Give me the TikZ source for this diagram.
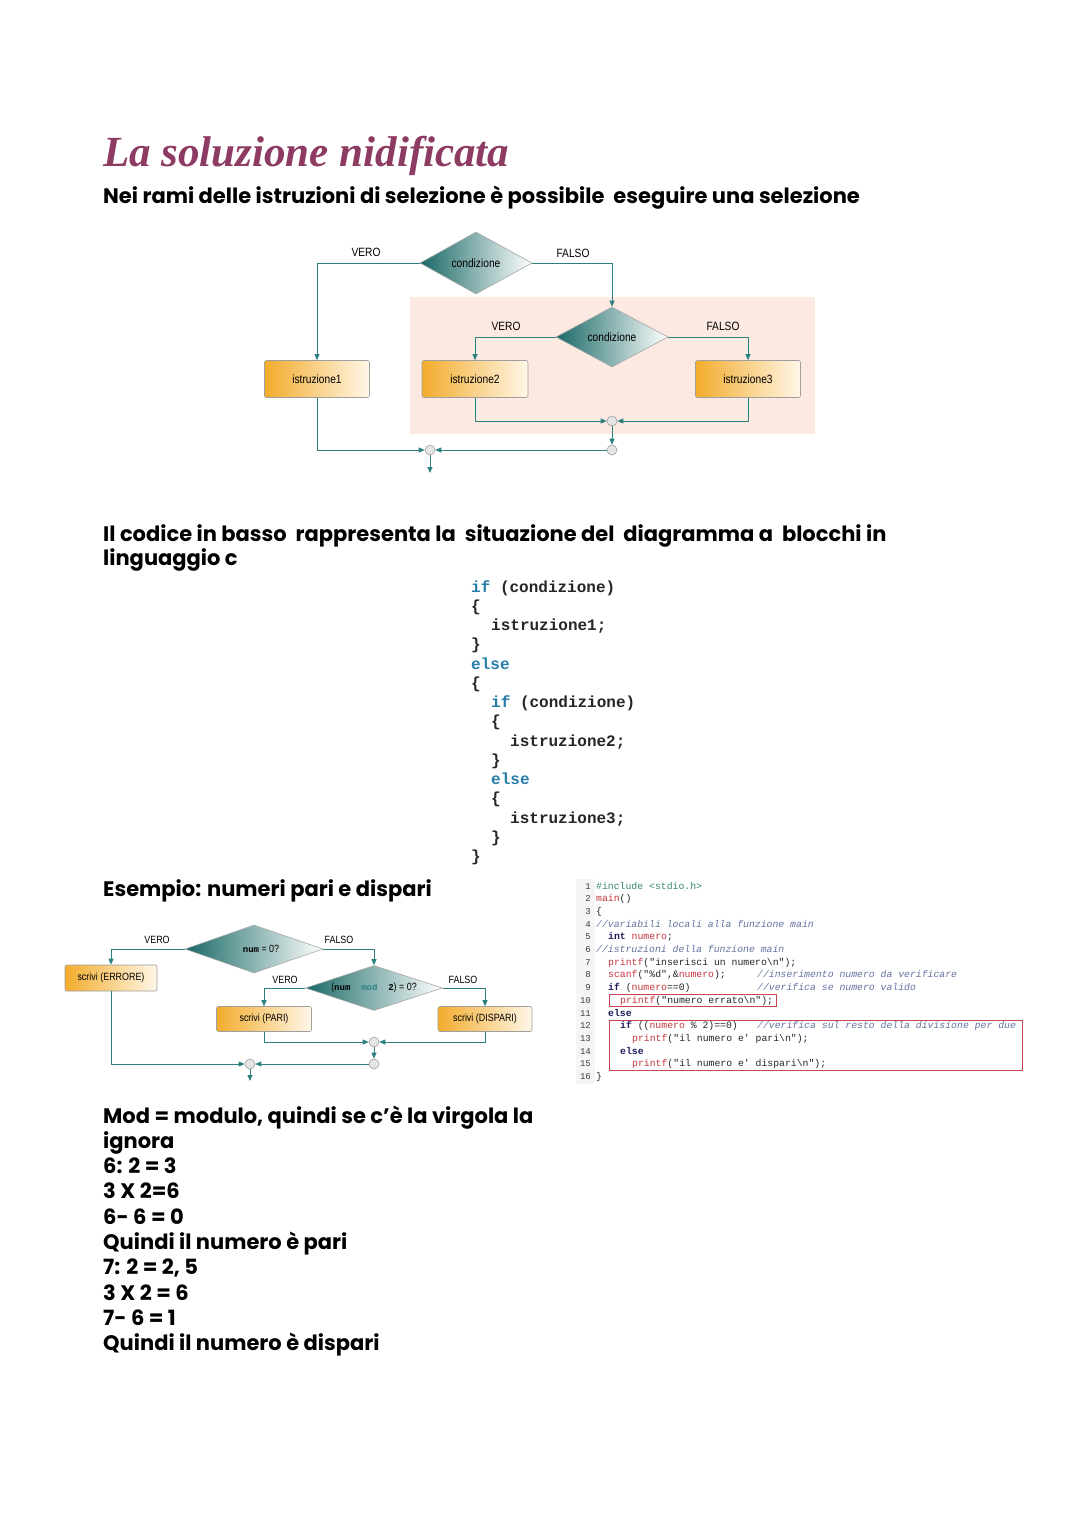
\documentclass[tikz,border=0pt]{standalone}
\usepackage{fontspec}
\setmainfont{Liberation Sans}
\setmonofont{Liberation Mono}
\newfontfamily\handfont{Poppins}
\newfontfamily\titlefont{Liberation Serif}
\newfontfamily\diagfont[FakeStretch=0.85]{Liberation Sans}
\usetikzlibrary{shapes.geometric,arrows.meta,positioning}

\definecolor{titlepurple}{RGB}{142,59,100}
\definecolor{flowteal}{RGB}{45,130,128}
\definecolor{diateal}{RGB}{25,105,102}
\definecolor{boxorange}{RGB}{243,172,45}
\definecolor{boxlight}{RGB}{255,247,232}
\definecolor{pinkbg}{RGB}{252,233,226}
\definecolor{kwblue}{RGB}{38,125,170}
\definecolor{lsnavy}{RGB}{30,30,90}
\definecolor{lsred}{RGB}{195,55,60}
\definecolor{lscomment}{RGB}{100,115,160}
\definecolor{lsgreen}{RGB}{55,135,115}
\definecolor{boxred}{RGB}{200,70,80}

\newcommand\kwb[1]{\textcolor{kwblue}{#1}}
\newcommand\lkw[1]{\textcolor{lsnavy}{\bfseries #1}}
\newcommand\lid[1]{\textcolor{lsred}{#1}}
\newcommand\lcm[1]{\textcolor{lscomment}{\itshape #1}}

\tikzset{
  hand/.style={anchor=base west, inner sep=0pt, font=\handfont\bfseries\fontsize{21}{21}\selectfont},
  cond/.style={diamond, draw=gray!70, line width=0.6pt, inner sep=0pt, shape aspect=3,
    left color=diateal, middle color=diateal!25, right color=white},
  instr/.style={rectangle, rounded corners=2pt, draw=gray!75, line width=0.6pt,
    left color=boxorange, middle color=boxorange!45!boxlight, right color=boxlight},
  junct/.style={circle, draw=gray!75, fill=gray!20, line width=0.6pt, minimum size=10pt, inner sep=0pt},
  flow/.style={draw=flowteal, line width=0.8pt, -{Triangle[length=6pt,width=5pt]}},
  bigfont/.style={font=\diagfont\fontsize{12}{12}\selectfont},
  smallfont/.style={font=\diagfont\fontsize{10.5}{10.5}\selectfont},
  ccode/.style={anchor=base west, inner sep=0pt, text=black!85, font=\ttfamily\bfseries\fontsize{16}{16}\selectfont},
  lcode/.style={anchor=base west, inner sep=0pt, text=black!85, font=\ttfamily\fontsize{9.8}{9.8}\selectfont},
  lnum/.style={anchor=base east, inner sep=0pt, text=black!75, font=\ttfamily\fontsize{9}{9}\selectfont}
}

\begin{document}
\begin{tikzpicture}[x=1pt,y=-1pt]
  \useasboundingbox (0,0) rectangle (1080,1527);
  \fill[white] (0,0) rectangle (1080,1527);

  %%%%% TITOLO %%%%%
  \node[anchor=base west, inner sep=0pt, text=titlepurple,
    font=\titlefont\bfseries\itshape\fontsize{43}{43}\selectfont] (titolo) at (103,166) {La soluzione nidificata};
  \node[hand] (intro) at (103,203) {Nei rami delle istruzioni di selezione è possibile\ \ eseguire una selezione};

  %%%%% DIAGRAMMA ANNIDATO %%%%%
  \fill[pinkbg] (410,297) rectangle (815,434);

  \node[cond, bigfont, minimum width=112pt, minimum height=62pt] (c1) at (476,263) {condizione};
  \node[cond, bigfont, minimum width=112pt, minimum height=60pt] (c2) at (612,337) {condizione};
  \node[instr, bigfont, minimum width=105pt, minimum height=37pt] (i1) at (317,379) {istruzione1};
  \node[instr, bigfont, minimum width=106pt, minimum height=37pt] (i2) at (475,379) {istruzione2};
  \node[instr, bigfont, minimum width=105pt, minimum height=37pt] (i3) at (748,379) {istruzione3};
  \node[junct] (j1) at (612,421) {};
  \node[junct] (j2) at (612,450) {};
  \node[junct] (j3) at (430,450) {};
  \coordinate (fine1) at (430,473);

  \node[bigfont] (v1) at (366,252) {VERO};
  \node[bigfont] (f1) at (573,253) {FALSO};
  \node[bigfont] (v2) at (506,326) {VERO};
  \node[bigfont] (f2) at (723,326) {FALSO};

  \draw[flow] (c1.west) -| (i1.north);
  \draw[flow] (c1.east) -| (c2.north);
  \draw[flow] (c2.west) -| (i2.north);
  \draw[flow] (c2.east) -| (i3.north);
  \draw[flow] (i2.south) |- (j1.west);
  \draw[flow] (i3.south) |- (j1.east);
  \draw[flow] (j1.south) -- (j2.north);
  \draw[flow] (i1.south) |- (j3.west);
  \draw[flow] (j2.west) -- (j3.east);
  \draw[flow] (j3.south) -- (fine1);

  %%%%% TESTO %%%%%
  \node[hand] (codice1) at (103,541) {Il codice in basso\ \ rappresenta la\ \ situazione del\ \ diagramma a\ \ blocchi in};
  \node[hand] (codice2) at (103,565) {linguaggio c};

  % codice C
  \foreach \lx/\txt [count=\i] in {471/{\kwb{if} (condizione)}, 471/\{, 491/istruzione1;, 471/\}, 471/\kwb{else},
      471/\{, 491/{\kwb{if} (condizione)}, 491/\{, 510/istruzione2;, 491/\}, 491/\kwb{else}, 491/\{,
      510/istruzione3;, 491/\}, 471/\}}
    \node[ccode] (cc\i) at (\lx,{592+19.27*(\i-1)}) {\txt};

  \node[hand] (esempio) at (103,896) {Esempio: numeri pari e dispari};

  %%%%% DIAGRAMMA PARI/DISPARI %%%%%
  \node[cond, smallfont, minimum width=138pt, minimum height=48pt] (c3) at (254,949)
    {\hspace{14pt}{\ttfamily\bfseries\fontsize{9}{9}\selectfont num} = 0?};
  \node[cond, smallfont, minimum width=137pt, minimum height=45pt] (c4) at (374,988)
    {({\ttfamily\bfseries\fontsize{9}{9}\selectfont num\ \ \textcolor{flowteal}{mod}\ \ 2}) = 0?};
  \node[instr, smallfont, minimum width=92pt, minimum height=26pt] (e1) at (111,978) {scrivi (ERRORE)};
  \node[instr, smallfont, minimum width=95pt, minimum height=25pt] (p1) at (264,1019) {scrivi (PARI)};
  \node[instr, smallfont, minimum width=94pt, minimum height=25pt] (d1) at (485,1019) {scrivi (DISPARI)};
  \node[junct] (j4) at (374,1042) {};
  \node[junct] (j5) at (374,1064) {};
  \node[junct] (j6) at (250,1064) {};
  \coordinate (fine2) at (250,1081);

  \node[smallfont] (v3) at (157,940) {VERO};
  \node[smallfont] (f3) at (339,940) {FALSO};
  \node[smallfont] (v4) at (285,980) {VERO};
  \node[smallfont] (f4) at (463,980) {FALSO};

  \draw[flow] (c3.west) -| (e1.north);
  \draw[flow] (c3.east) -| (c4.north);
  \draw[flow] (c4.west) -| (p1.north);
  \draw[flow] (c4.east) -| (d1.north);
  \draw[flow] (p1.south) |- (j4.west);
  \draw[flow] (d1.south) |- (j4.east);
  \draw[flow] (j4.south) -- (j5.north);
  \draw[flow] (e1.south) |- (j6.west);
  \draw[flow] (j5.west) -- (j6.east);
  \draw[flow] (j6.south) -- (fine2);

  %%%%% LISTATO %%%%%
  \fill[gray!8] (576,879) rectangle (595,1084);
  \foreach \n in {1,...,16}
    \node[lnum] (ln\n) at (591,{889+12.7*(\n-1)}) {\n};
  \node[lcode] (l1) at (596,889) {\textcolor{lsgreen}{\#include <stdio.h>}};
  \node[lcode] (l2) at (596,901.7) {\lid{main}()};
  \node[lcode] (l3) at (596,914.4) {\{};
  \node[lcode] (l4) at (596,927.1) {\lcm{//variabili locali alla funzione main}};
  \node[lcode] (l5) at (608,939.8) {\lkw{int} \lid{numero};};
  \node[lcode] (l6) at (596,952.5) {\lcm{//istruzioni della funzione main}};
  \node[lcode] (l7) at (608,965.2) {\lid{printf}("inserisci un numero\textbackslash n");};
  \node[lcode] (l8) at (608,977.9) {\lid{scanf}("\%d",\&\lid{numero});};
  \node[lcode] (k8) at (757,977.9) {\lcm{//inserimento numero da verificare}};
  \node[lcode] (l9) at (608,990.6) {\lkw{if} (\lid{numero}==0)};
  \node[lcode] (k9) at (757,990.6) {\lcm{//verifica se numero valido}};
  \node[lcode] (l10) at (620,1003.3) {\lid{printf}("numero errato\textbackslash n");};
  \node[lcode] (l11) at (608,1016) {\lkw{else}};
  \node[lcode] (l12) at (620,1028.7) {\lkw{if} ((\lid{numero} \% 2)==0)};
  \node[lcode] (k12) at (757,1028.7) {\lcm{//verifica sul resto della divisione per due}};
  \node[lcode] (l13) at (632,1041.4) {\lid{printf}("il numero e' pari\textbackslash n");};
  \node[lcode] (l14) at (620,1054.1) {\lkw{else}};
  \node[lcode] (l15) at (632,1066.8) {\lid{printf}("il numero e' dispari\textbackslash n");};
  \node[lcode] (l16) at (596,1079.5) {\}};
  \draw[boxred, line width=0.7pt] (609,994) rectangle (776,1006);
  \draw[boxred, line width=0.7pt] (609,1020) rectangle (1022,1070);

  %%%%% SPIEGAZIONE %%%%%
  \foreach \txt [count=\i] in {{Mod = modulo, quindi se c’è la virgola la}, ignora, 6: 2 = 3, 3 X 2=6, 6- 6 = 0,
      Quindi il numero è pari, {7: 2 = 2, 5}, 3 X 2 = 6, 7- 6 = 1, Quindi il numero è dispari}
    \node[hand] (sp\i) at (103,{1123+25.3*(\i-1)}) {\txt};
\end{tikzpicture}
\end{document}
